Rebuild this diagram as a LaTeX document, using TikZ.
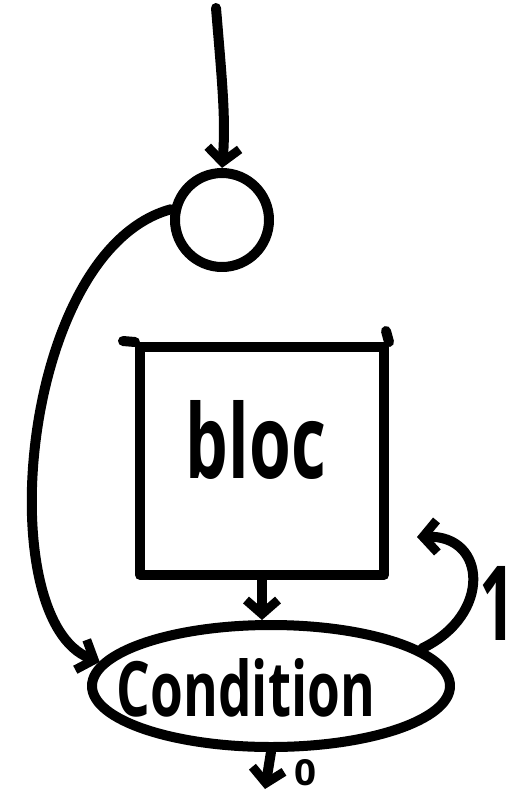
\documentclass[tikz,border=0pt]{standalone}
\usepackage{fontspec}
\setmainfont{Open Sans}
\usetikzlibrary{shapes.geometric,arrows.meta}
\begin{document}
\begin{tikzpicture}[x=1pt,y=-1pt,line width=10pt,line cap=round,line join=round,
  arr/.style={-{Straight Barb[length=14pt,width=32pt,line width=9pt]}},
  drawn/.style={draw,inner sep=0pt},
  lbl/.style={inner sep=0pt,font=\bfseries}]
\useasboundingbox (0,0) rectangle (519,793);
% nodes
\node[drawn,circle,minimum size=94pt] (circ) at (222,220) {};
\node[drawn,rectangle,minimum width=244pt,minimum height=228pt] (blocbox) at (262,461) {};
\draw (blocbox.north west) -- ++(-12,-1);
\draw (blocbox.north east) -- ++(-3,-11);
\node[lbl] (bloctext) at (256,440) {\resizebox{140pt}{78pt}{bloc}};
\node[drawn,ellipse,minimum width=358pt,minimum height=122pt] (cond) at (271,686) {};
\node[lbl] (condtext) at (246,688) {\resizebox{258pt}{58pt}{Condition}};
\node[lbl] (zero) at (305,773) {\resizebox{22pt}{26pt}{0}};
\node[lbl,anchor=east] (one) at (521,603) {\resizebox{36pt}{74pt}{1}};
% free ends
\coordinate (start) at (216,8);
\coordinate (bottom) at (265,789);
\coordinate (looptip) at (417,537);
% connectors
\draw[arr] (start) .. controls (222,80) and (226,120) .. (circ.north);
\draw[arr] (circ.168) .. controls (20,250) and (-10,620) .. (cond.172);
\draw[arr] (blocbox.south) -- (blocbox.south |- cond.north);
\draw[arr] (cond.14) .. controls (492,615) and (487,535) .. (looptip);
\draw[arr] (cond.south) -- (bottom);
\end{tikzpicture}
\end{document}
